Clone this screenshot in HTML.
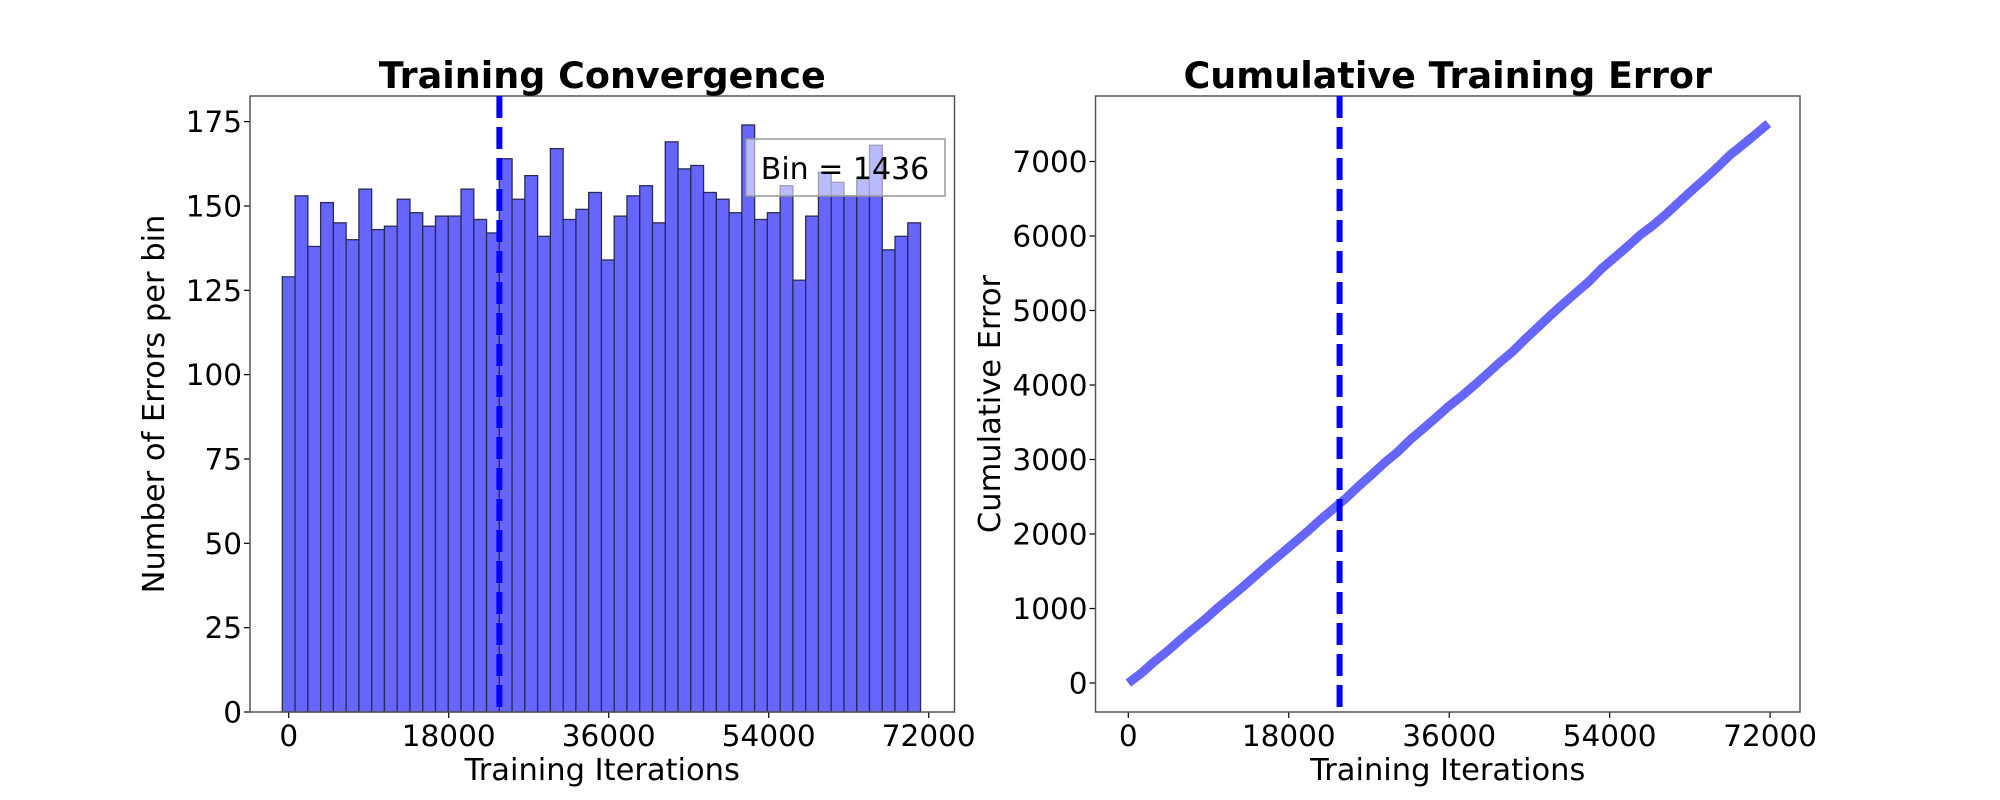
<!DOCTYPE html>
<html><head><meta charset="utf-8"><style>
html,body{margin:0;padding:0;background:#fff;}
svg{display:block;font-family:"DejaVu Sans","Liberation Sans",sans-serif;}
</style></head><body>
<svg id="fig" width="2000" height="800" xmlns="http://www.w3.org/2000/svg">
<rect width="2000" height="800" fill="#fff"/>
<g id="left"></g>
<g id="right"></g>
</svg>
<script>
const binCounts = [129,153,138,151,145,140,155,143,144,152,148,144,147,147,155,146,142,164,152,159,141,167,146,149,154,134,147,153,156,145,169,161,162,154,152,148,174,146,148,156,128,147,160,157,153,158,168,137,141,145];
const binWidth = 1436;
const markerX = 23700;
const xTicks = [0,18000,36000,54000,72000];
const leftYTicks = [0,25,50,75,100,125,150,175];
const rightYTicks = [0,1000,2000,3000,4000,5000,6000,7000];

const NS = "http://www.w3.org/2000/svg";
function mk(parent, tag, attrs, text){
  const e = document.createElementNS(NS, tag);
  for (const k in attrs) e.setAttribute(k, attrs[k]);
  if (text !== undefined) e.textContent = text;
  parent.appendChild(e);
  return e;
}
const AX = {top:96, bottom:712};

function axesFrame(g, x0, x1, xs, ys, yticks, title, ylab, ylabX){
  for (const t of xTicks){
    const x = xs(t);
    const tk = mk(g,'line',{x1:x,x2:x,y1:AX.bottom,y2:AX.bottom+6,stroke:'#000','stroke-width':1.2});
    
    
    const tl = mk(g,'text',{x:x,y:746,'font-size':29.5,'text-anchor':'middle'},String(t));
    
    
  }
  for (const t of yticks){
    const y = ys(t);
    const tk = mk(g,'line',{x1:x0-6,x2:x0,y1:y,y2:y,stroke:'#000','stroke-width':1.2});
    
    
    const tl = mk(g,'text',{x:x0-8,y:y+10.5,'font-size':29.5,'text-anchor':'end'},String(t));
    
    
  }
  const fr = mk(g,'rect',{x:x0,y:AX.top,width:x1-x0,height:AX.bottom-AX.top,fill:'none',stroke:'#555','stroke-width':1.5});
  
  
  const ti = mk(g,'text',{x:(x0+x1)/2,y:88,'font-size':36.5,'font-weight':'bold','text-anchor':'middle'},title);
  
  
  const xl = mk(g,'text',{x:(x0+x1)/2,y:780,'font-size':30.5,'text-anchor':'middle'},'Training Iterations');
  
  
  const yl = mk(g,'text',{x:0,y:0,'font-size':30.5,'text-anchor':'middle',transform:`translate(${ylabX},${(AX.top+AX.bottom)/2}) rotate(-90)`},ylab);
  
  
  const ml = mk(g,'line',{x1:xs(markerX),x2:xs(markerX),y1:AX.top,y2:AX.bottom,stroke:'#0000ff','stroke-width':6,'stroke-dasharray':'22,9'});
  
  
}

// Left chart
(function(){
  const g = document.getElementById('left');
  const x0=250, x1=954.5, xmin=-4354, xmax=74900, ymax=182.6;
  const xs = v => x0 + (v-xmin)/(xmax-xmin)*(x1-x0);
  const ys = v => AX.bottom - v/ymax*(AX.bottom-AX.top);
  binCounts.forEach((c,i)=>{
    const l = xs(i*binWidth - binWidth/2), r = xs(i*binWidth + binWidth/2);
    const b = mk(g,'rect',{x:l,y:ys(c),width:r-l,height:ys(0)-ys(c),fill:'#6666ff',stroke:'#2a2a55','stroke-width':1.3});
    
    
  });
  axesFrame(g,x0,x1,xs,ys,leftYTicks,'Training Convergence','Number of Errors per bin',164);
  const lg = mk(g,'rect',{x:746,y:139,width:199,height:57,fill:'rgba(255,255,255,0.55)',stroke:'#999','stroke-width':1.5});
  
  
  const lt = mk(g,'text',{x:845,y:179,'font-size':30,'text-anchor':'middle'},'Bin = 1436');
  
  
})();

// Right chart
(function(){
  const g = document.getElementById('right');
  const x0=1095.5, x1=1800, xmin=-3680, xmax=75350;
  const y0px=683, pxPer=0.0745;
  const xs = v => x0 + (v-xmin)/(xmax-xmin)*(x1-x0);
  const ys = v => y0px - v*pxPer;
  let cum = 0, pts = [[xs(0),ys(0)]];
  binCounts.forEach((c,i)=>{ cum += c; pts.push([xs((i+1)*binWidth), ys(cum)]); });
  const ln = mk(g,'polyline',{points:pts.map(p=>p.join(',')).join(' '),fill:'none',stroke:'#6666ff','stroke-width':9});
  
  
  axesFrame(g,x0,x1,xs,ys,rightYTicks,'Cumulative Training Error','Cumulative Error',1000);
})();
</script>
</body></html>
